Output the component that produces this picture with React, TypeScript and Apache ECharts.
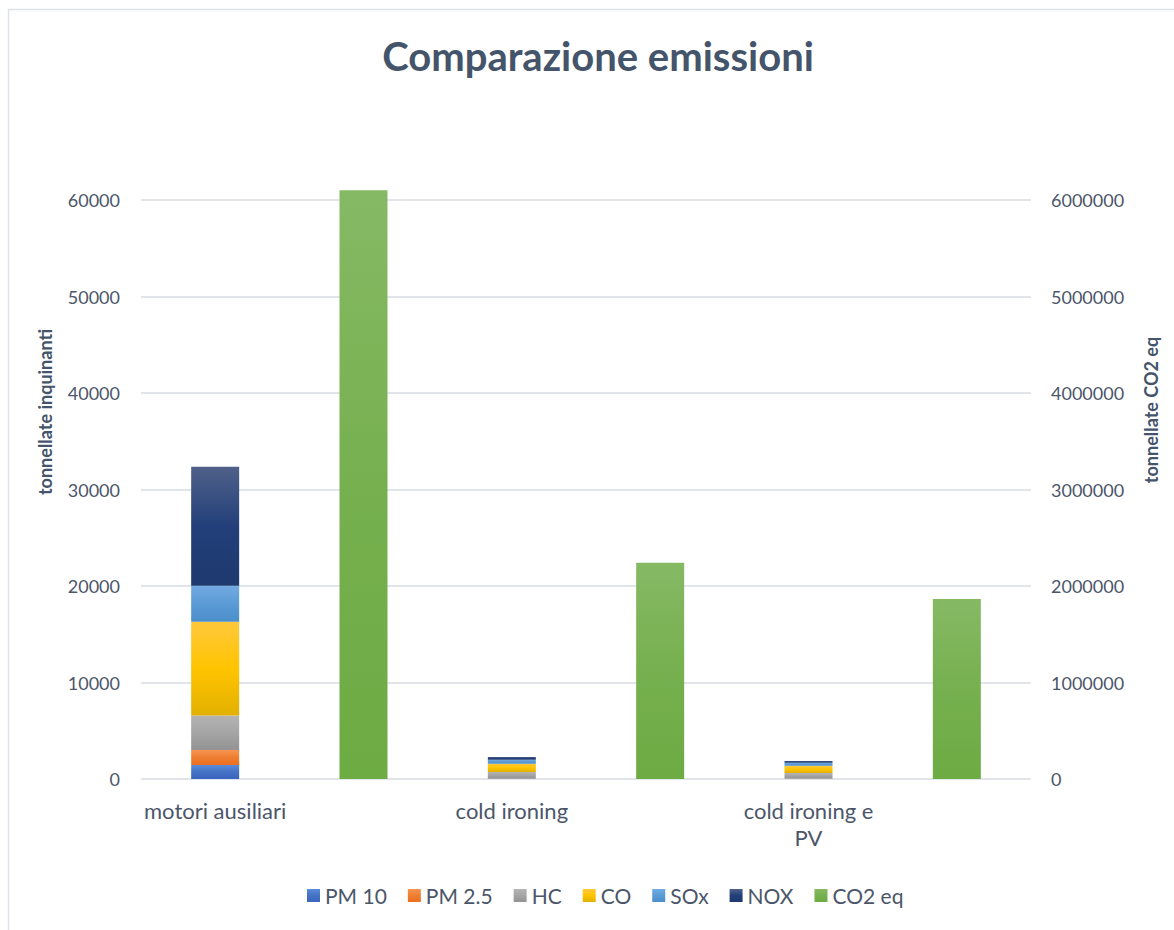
import React, { useEffect, useRef } from "react";
import * as echarts from "echarts";

// Categories: each scenario has a pollutant stack slot and a CO2 slot beside it
const categories = ["motori ausiliari", "cold ironing", "cold ironing e\nPV"];

// Pollutants (tonnellate) per scenario
const pm10 = [1450, 40, 30];
const pm25 = [1560, 30, 25];
const hc = [3560, 660, 570];
const co = [9720, 860, 760];
const sox = [3730, 415, 310];
const nox = [12350, 280, 175];

// CO2 equivalent (tonnellate) per scenario
const co2eq = [6100000, 2240000, 1866000];

const leftTicks = { min: 0, max: 60000, interval: 10000 };
const rightTicks = { min: 0, max: 6000000, interval: 1000000 };

const FONT = "Lato";
const TEXT = "#4B566A";
const TITLE = "#44546A";

// Each scenario takes two slots on the category axis
const slots: string[] = [];
categories.forEach((c) => {
  slots.push(c);
  slots.push("");
});
const onPollutantSlots = (vals: number[]) => {
  const out: (number | string)[] = [];
  vals.forEach((v) => {
    out.push(v);
    out.push("-");
  });
  return out;
};
const onCo2Slots = (vals: number[]) => {
  const out: (number | string)[] = [];
  vals.forEach((v) => {
    out.push("-");
    out.push(v);
  });
  return out;
};

const grad = (top: string, mid: string, bottom: string) =>
  new echarts.graphic.LinearGradient(0, 0, 0, 1, [
    { offset: 0, color: top },
    { offset: 0.5, color: mid },
    { offset: 1, color: bottom },
  ]);

const pollutantSeries = [
  { name: "PM 10", data: pm10, fill: grad("#5B8BDB", "#4472C4", "#3A66BE") },
  { name: "PM 2.5", data: pm25, fill: grad("#F6954F", "#EE7E32", "#EC6F1E") },
  { name: "HC", data: hc, fill: grad("#B4B4B4", "#A5A5A5", "#939393") },
  { name: "CO", data: co, fill: grad("#FFC83C", "#FFC400", "#E2B000") },
  { name: "SOx", data: sox, fill: grad("#72AAE2", "#5B9BD5", "#4A8ECB") },
  { name: "NOX", data: nox, fill: grad("#4F6189", "#233F7A", "#1D396E") },
];

const BAR_W = 48;
const plain = (v: number) => String(v);

export default function App() {
  const ref = useRef<HTMLDivElement>(null);

  useEffect(() => {
    if (!ref.current) return;
    const chart = echarts.init(ref.current, undefined, { renderer: "svg" });

    const series: any[] = pollutantSeries.map((s) => ({
      name: s.name,
      type: "bar",
      stack: "inquinanti",
      yAxisIndex: 0,
      barWidth: BAR_W,
      barGap: "-100%",
      data: onPollutantSlots(s.data),
      itemStyle: { color: s.fill },
    }));
    series.push({
      name: "CO2 eq",
      type: "bar",
      yAxisIndex: 1,
      barWidth: BAR_W,
      barGap: "-100%",
      clip: false,
      data: onCo2Slots(co2eq),
      itemStyle: { color: grad("#86B964", "#76B04F", "#6DAB43") },
    });

    chart.setOption({
      animation: false,
      backgroundColor: "#FFFFFF",
      textStyle: { fontFamily: FONT },
      grid: { left: 141, right: 143, top: 200, bottom: 151, containLabel: false },
      legend: {
        bottom: 19,
        left: 302,
        itemWidth: 13,
        itemHeight: 13,
        itemGap: 21,
        icon: "rect",
        textStyle: { fontFamily: FONT, fontSize: 21, color: TEXT },
        data: ["PM 10", "PM 2.5", "HC", "CO", "SOx", "NOX", "CO2 eq"],
      },
      xAxis: {
        type: "category",
        data: slots,
        axisLine: { show: false },
        axisTick: { show: false },
        axisLabel: {
          interval: 0,
          margin: 18,
          fontFamily: FONT,
          fontSize: 22,
          color: TEXT,
          lineHeight: 27,
        },
      },
      yAxis: [
        {
          type: "value",
          min: leftTicks.min,
          max: leftTicks.max,
          interval: leftTicks.interval,
          axisLine: { show: false },
          axisTick: { show: false },
          axisLabel: { margin: 21, fontFamily: FONT, fontSize: 18, color: TEXT, formatter: plain },
          splitLine: { lineStyle: { color: "#E1E5EA", width: 2 } },
        },
        {
          type: "value",
          position: "right",
          min: rightTicks.min,
          max: rightTicks.max,
          interval: rightTicks.interval,
          axisLine: { show: false },
          axisTick: { show: false },
          axisLabel: { margin: 20, fontFamily: FONT, fontSize: 18, color: TEXT, formatter: plain },
          splitLine: { show: false },
        },
      ],
      graphic: [
        {
          type: "rect",
          silent: true,
          shape: { x: 8.5, y: 9.5, width: 1300, height: 1100 },
          style: { fill: "none", stroke: "#DDE2E8", lineWidth: 1.5 },
        },
        {
          type: "text",
          x: 598,
          y: 56,
          style: {
            text: "Comparazione emissioni",
            fontFamily: FONT,
            fontSize: 40,
            fontWeight: "bold",
            fill: TITLE,
            textAlign: "center",
            textVerticalAlign: "middle",
          },
        },
        {
          type: "text",
          x: 45,
          y: 412,
          rotation: Math.PI / 2,
          style: {
            text: "tonnellate inquinanti",
            fontFamily: FONT,
            fontSize: 18,
            fontWeight: "bold",
            fill: TITLE,
            textAlign: "center",
            textVerticalAlign: "middle",
          },
        },
        {
          type: "text",
          x: 1151,
          y: 410,
          rotation: Math.PI / 2,
          style: {
            text: "tonnellate CO2 eq",
            fontFamily: FONT,
            fontSize: 18,
            fontWeight: "bold",
            fill: TITLE,
            textAlign: "center",
            textVerticalAlign: "middle",
          },
        },
      ],
      series,
    });

    return () => chart.dispose();
  }, []);

  return (
    <div
      ref={ref}
      style={{ position: "fixed", left: 0, top: 0, width: 1174, height: 930 }}
    />
  );
}
